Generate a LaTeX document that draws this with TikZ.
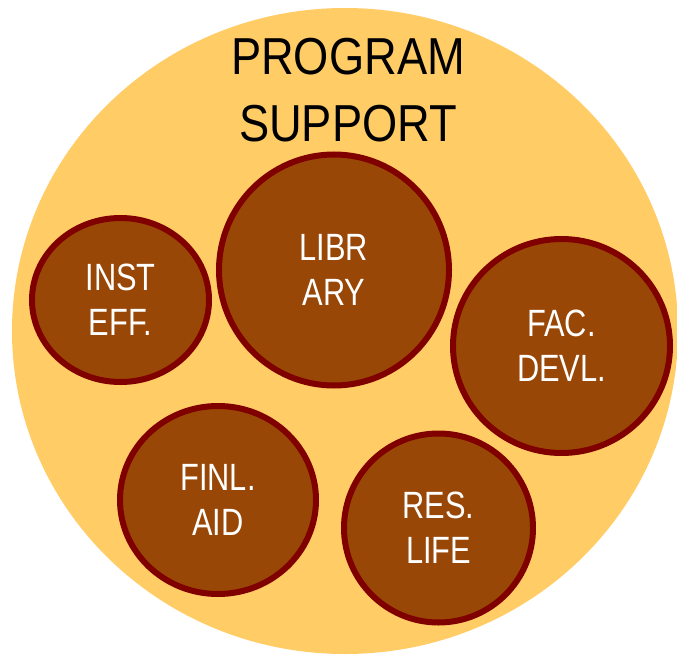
\documentclass[tikz,border=0pt]{standalone}
\usepackage{fontspec}
\setmainfont{Liberation Sans}[FakeStretch=0.87]
\newfontfamily\bubblefont{Liberation Sans}[FakeStretch=0.81]
\usetikzlibrary{shapes.geometric}
\definecolor{outerfill}{HTML}{FFCC66}
\definecolor{bubblefill}{HTML}{994706}
\definecolor{bubbleline}{HTML}{800000}
\tikzset{
  bubble/.style={ellipse, draw=bubbleline, fill=bubblefill, line width=6pt,
    inner sep=0pt, text=white, align=center,
    font=\bubblefont\fontsize{38}{45}\selectfont},
  titletext/.style={align=center, text=black, inner sep=0pt,
    font=\fontsize{52}{67}\selectfont}
}
\begin{document}
\begin{tikzpicture}[x=1pt,y=-1pt]
\useasboundingbox (0,0) rectangle (677,658);
\node[ellipse, fill=outerfill, minimum width=666pt, minimum height=646pt, inner sep=0pt] (outer) at (345,331) {};
\node[titletext] (title) at (348,90) {PROGRAM\\SUPPORT};
\node[bubble, minimum width=177pt, minimum height=164pt] (inst) at (120.5,300) {INST\\EFF.};
\node[bubble, minimum width=230pt, minimum height=231pt] (lib) at (334,270) {LIBR\\ARY};
\node[bubble, minimum width=217pt, minimum height=214pt] (fac) at (561.5,346) {FAC.\\DEVL.};
\node[bubble, minimum width=196pt, minimum height=188pt] (finl) at (218,500) {FINL.\\AID};
\node[bubble, minimum width=189pt, minimum height=189pt] (res) at (438.5,528) {RES.\\LIFE};
\end{tikzpicture}
\end{document}
